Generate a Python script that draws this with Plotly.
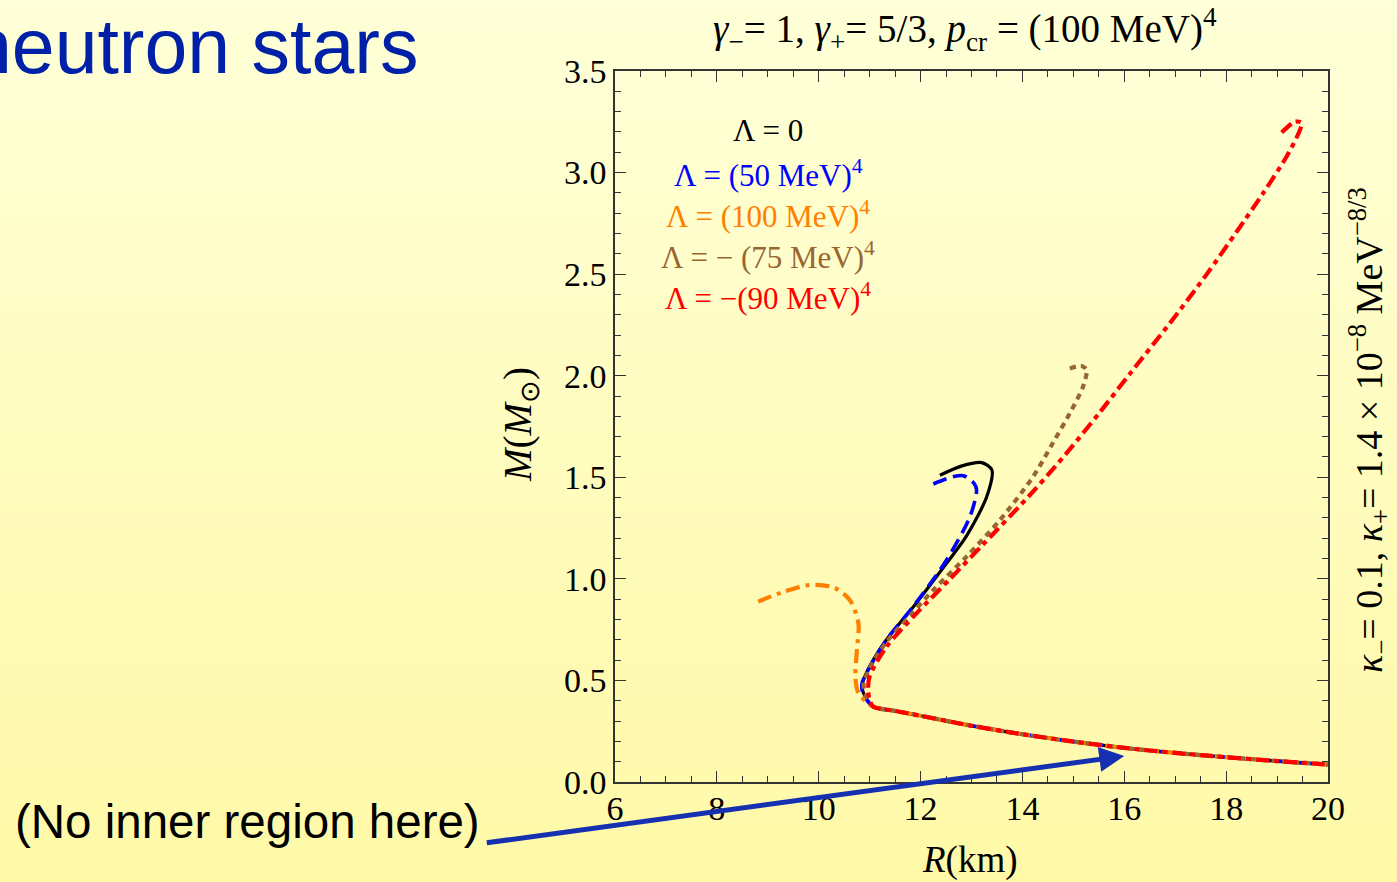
import plotly.graph_objects as go

# ---- mass-radius data (R in km, M in solar masses) ----
# common low-mass branch shared by every equation of state
R_low = [11.07, 11.5, 12.0, 13.0, 14.0, 15.0, 16.0, 17.0, 18.0, 19.0, 20.0]
M_low = [0.371, 0.350, 0.326, 0.277, 0.235, 0.199, 0.168, 0.143, 0.122, 0.103, 0.086]

# Lambda = 0
R_zero = [12.38, 12.8, 13.2, 13.4, 13.3, 12.9, 12.51, 11.86, 11.33, 11.0, 10.86, 10.88]
M_zero = [1.51, 1.555, 1.572, 1.536, 1.405, 1.21, 1.077, 0.863, 0.70, 0.568, 0.486, 0.437]

# Lambda = (50 MeV)^4
R_50 = [12.25, 12.6, 12.84, 13.05, 13.1, 12.97, 12.51, 11.86, 11.33, 11.0, 10.85, 10.87]
M_50 = [1.467, 1.50, 1.508, 1.47, 1.438, 1.306, 1.093, 0.865, 0.70, 0.565, 0.485, 0.435]

# Lambda = (100 MeV)^4
R_100 = [8.81, 9.3, 9.83, 10.29, 10.61, 10.78, 10.75, 10.72, 10.78, 10.94]
M_100 = [0.888, 0.935, 0.97, 0.958, 0.896, 0.781, 0.65, 0.518, 0.437, 0.395]

# Lambda = -(75 MeV)^4
R_m75 = [14.93, 15.16, 15.26, 15.19, 14.93, 14.6, 14.21, 13.56, 12.9, 12.25, 11.8, 11.33, 11.0, 10.88, 10.92]
M_m75 = [2.036, 2.048, 2.03, 1.946, 1.815, 1.67, 1.503, 1.29, 1.109, 0.945, 0.82, 0.69, 0.56, 0.48, 0.43]

# Lambda = -(90 MeV)^4
R_m90 = [19.09, 19.35, 19.48, 19.45, 19.19, 18.73, 18.21, 17.62, 16.9, 16.11, 15.52,
         14.87, 14.21, 13.23, 12.58, 11.92, 11.33, 11.0, 10.97, 11.0]
M_m90 = [3.197, 3.25, 3.246, 3.21, 3.08, 2.90, 2.71, 2.50, 2.26, 2.01, 1.82,
         1.62, 1.43, 1.17, 1.0, 0.83, 0.666, 0.52, 0.46, 0.404]

x_ticks = [6, 8, 10, 12, 14, 16, 18, 20]
y_ticks = [0.0, 0.5, 1.0, 1.5, 2.0, 2.5, 3.0, 3.5]

legend_labels = ["Λ = 0", "Λ = (50 MeV)<sup>4</sup>", "Λ = (100 MeV)<sup>4</sup>",
                 "Λ = − (75 MeV)<sup>4</sup>", "Λ = −(90 MeV)<sup>4</sup>"]

# ---- page geometry (pixels) ----
W, H = 1397, 882
L, R, T, B = 615, 1328, 71, 782  # plot area edges


def px(x):
    return (x - L) / (R - L)


def py(y):
    return (B - y) / (B - T)


SERIF = "Liberation Serif"
SANS = "Liberation Sans"

series = [
    (R_zero, M_zero, "black", "solid", 3.2),
    (R_50, M_50, "#0000FF", "14px,7px", 3.6),
    (R_100, M_100, "#FF8000", "14px,6px,4px,6px", 4.2),
    (R_m75, M_m75, "#996633", "6px,5px", 4.2),
    (R_m90, M_m90, "#FF0000", "13px,5px,5px,5px", 4.2),
]

fig = go.Figure()
for rs, ms, color, dash, width in series:
    fig.add_trace(go.Scatter(
        x=rs + R_low, y=ms + M_low, mode="lines",
        line=dict(color=color, dash=dash, width=width, shape="spline", smoothing=0.8),
        showlegend=False, hoverinfo="skip"))

# vertical background gradient for the whole page
shapes = []
n_bands = 60
top_rgb = (255, 255, 216)
bot_rgb = (255, 249, 168)
y0_page, y1_page = py(H), py(0)
for i in range(n_bands):
    f = i / (n_bands - 1)
    c = tuple(round(top_rgb[k] + (bot_rgb[k] - top_rgb[k]) * f) for k in range(3))
    ya = y1_page - (y1_page - y0_page) * i / n_bands
    yb = y1_page - (y1_page - y0_page) * (i + 1) / n_bands
    shapes.append(dict(type="rect", xref="paper", yref="paper", layer="below",
                       x0=px(0), x1=px(W), y0=yb - 0.002, y1=ya + 0.002,
                       line=dict(width=0), fillcolor="rgb(%d,%d,%d)" % c))

annotations = []
# legend block
leg_colors = ["black", "#0000FF", "#FF8000", "#996633", "#FF0000"]
leg_y = [130, 173, 214, 255, 296]
for lab, col, yy in zip(legend_labels, leg_colors, leg_y):
    annotations.append(dict(text=lab, x=px(768), y=py(yy), xref="paper", yref="paper",
                            showarrow=False, xanchor="center", yanchor="middle",
                            font=dict(family=SERIF, size=31, color=col)))

# parameter line above the frame
annotations.append(dict(
    text="<i>γ</i><sub>−</sub>= 1, <i>γ</i><sub>+</sub>= 5/3, <i>p</i><sub>cr</sub> = (100 MeV)<sup>4</sup>",
    x=px(965), y=py(30), xref="paper", yref="paper", showarrow=False,
    xanchor="center", yanchor="middle", font=dict(family=SERIF, size=39, color="black")))

# parameter line at the right side
annotations.append(dict(
    text="<i>κ</i><sub>−</sub>= 0.1, <i>κ</i><sub>+</sub>= 1.4 × 10<sup>−8</sup> MeV<sup>−8/3</sup>",
    x=px(1369), y=py(430), xref="paper", yref="paper", showarrow=False, textangle=-90,
    xanchor="center", yanchor="middle", font=dict(family=SERIF, size=38, color="black")))

# axis titles
annotations.append(dict(
    text="<i>M</i>(<i>M</i><sub>⊙</sub>)", x=px(520), y=py(425), xref="paper", yref="paper",
    showarrow=False, textangle=-90, xanchor="center", yanchor="middle",
    font=dict(family=SERIF, size=39, color="black")))
annotations.append(dict(
    text="<i>R</i>(km)", x=px(970), y=py(860), xref="paper", yref="paper",
    showarrow=False, xanchor="center", yanchor="middle",
    font=dict(family=SERIF, size=37, color="black")))

# slide text
annotations.append(dict(
    text="neutron stars", x=px(420), y=py(46), xref="paper", yref="paper",
    showarrow=False, xanchor="right", yanchor="middle",
    font=dict(family=SANS, size=77, color="#0020A8")))
annotations.append(dict(
    text="(No inner region here)", x=px(13), y=py(821), xref="paper", yref="paper",
    showarrow=False, xanchor="left", yanchor="middle",
    font=dict(family=SANS, size=47.5, color="black")))

# pointer to the low-mass branch
annotations.append(dict(
    text="", x=16.0, y=0.128, xref="x", yref="y", showarrow=True,
    ax=485 - 1124, ay=843 - 756, axref="pixel", ayref="pixel",
    arrowhead=2, arrowsize=1.0, arrowwidth=5, arrowcolor="#1530B0", standoff=0))

axis_common = dict(
    showgrid=False, zeroline=False, showline=True, linecolor="#333333", linewidth=1.5,
    mirror="allticks", ticks="inside", ticklen=11, tickwidth=1.3, tickcolor="#333333",
    tickfont=dict(family=SERIF, size=34, color="black"),
)

fig.update_layout(
    width=W, height=H,
    margin=dict(l=L, r=W - R, t=T, b=H - B, pad=0),
    paper_bgcolor="rgb(255,255,216)", plot_bgcolor="rgba(0,0,0,0)",
    xaxis=dict(range=[6, 20], tickvals=x_ticks, ticktext=[str(v) for v in x_ticks],
               minor=dict(ticks="inside", dtick=0.5, ticklen=6, tickcolor="#333333", tickwidth=1.2),
               ticklabelstandoff=-5,
               **axis_common),
    yaxis=dict(range=[0, 3.5], tickvals=y_ticks, ticktext=["%.1f" % v for v in y_ticks],
               minor=dict(ticks="inside", dtick=0.1, ticklen=6, tickcolor="#333333", tickwidth=1.2),
               **axis_common),
    shapes=shapes,
    annotations=annotations,
)

fig.write_html("out.html")
